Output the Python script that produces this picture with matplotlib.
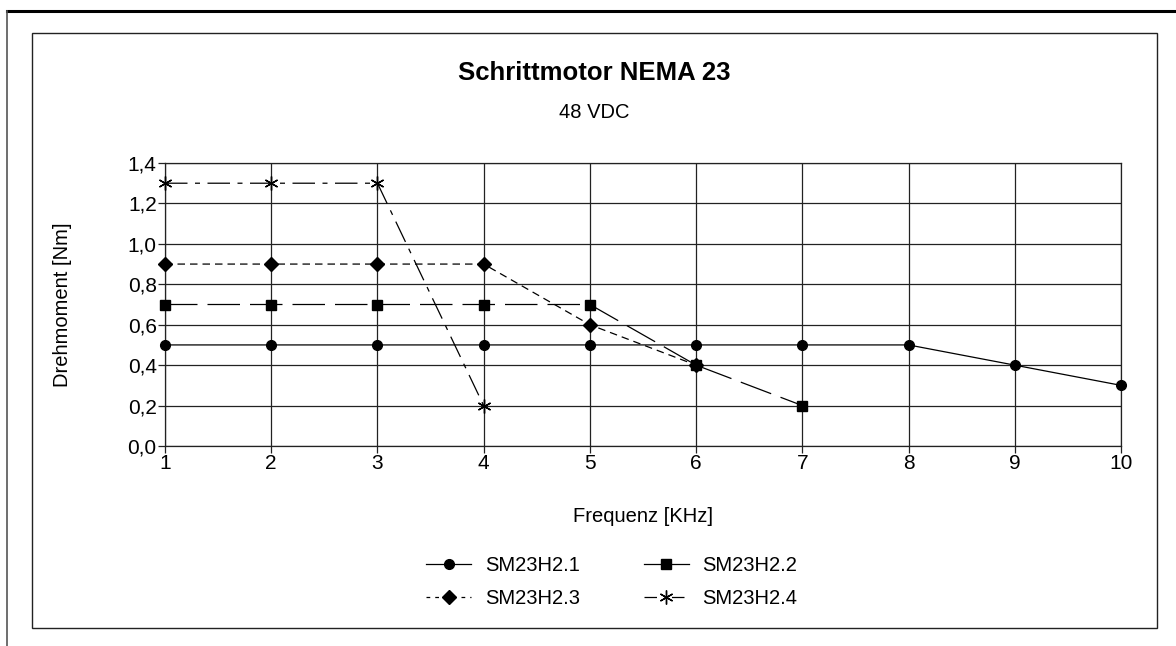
import matplotlib
matplotlib.use("Agg")
import matplotlib.pyplot as plt
from matplotlib.lines import Line2D
from matplotlib.patches import Rectangle
from matplotlib.ticker import FuncFormatter

plt.rcParams["font.family"] = ["Liberation Sans", "DejaVu Sans"]

# Daten
freq_21 = [1, 2, 3, 4, 5, 6, 7, 8, 9, 10]
torque_21 = [0.5, 0.5, 0.5, 0.5, 0.5, 0.5, 0.5, 0.5, 0.4, 0.3]
freq_22 = [1, 2, 3, 4, 5, 6, 7]
torque_22 = [0.7, 0.7, 0.7, 0.7, 0.7, 0.4, 0.2]
freq_23 = [1, 2, 3, 4, 5, 6]
torque_23 = [0.9, 0.9, 0.9, 0.9, 0.6, 0.4]
freq_24 = [1, 2, 3, 4]
torque_24 = [1.3, 1.3, 1.3, 0.2]
labels = ["SM23H2.1", "SM23H2.2", "SM23H2.3", "SM23H2.4"]
x_ticks = list(range(1, 11))
y_ticks = [0.0, 0.2, 0.4, 0.6, 0.8, 1.0, 1.2, 1.4]

W, H = 1176, 646
fig = plt.figure(figsize=(W / 100, H / 100), dpi=100)

# Rahmen: äußere Linien oben/links, innerer Kasten
fig.add_artist(Line2D([7 / W, 1], [1 - 11 / H, 1 - 11 / H], transform=fig.transFigure,
                      color="black", lw=2.2))
fig.add_artist(Line2D([7 / W, 7 / W], [0, 1 - 11 / H], transform=fig.transFigure,
                      color="#555555", lw=1.2))
fig.add_artist(Rectangle((32 / W, 1 - 628 / H), (1157 - 32) / W, (628 - 33) / H,
                         transform=fig.transFigure, fill=False, ec="#222222", lw=1.0))

ax = fig.add_axes([165 / W, 1 - 446 / H, (1121 - 165) / W, (446 - 163) / H])

style = dict(color="black", lw=0.9, clip_on=False, zorder=3)
ax.plot(freq_21, torque_21, marker="o", ms=7, ls="-", **style)
ax.plot(freq_22, torque_22, marker="s", ms=7, ls=(0, (26, 8)), **style)
ax.plot(freq_23, torque_23, marker="D", ms=7, ls=(0, (6, 4)), **style)
ax.plot(freq_24, torque_24, marker=(6, 2, 0), ms=10, mew=1.0, ls=(0, (18, 6, 4, 6)), **style)

ax.set_xlim(1, 10)
ax.set_ylim(0, 1.4)
ax.set_xticks(x_ticks)
ax.set_yticks(y_ticks)
ax.yaxis.set_major_formatter(FuncFormatter(lambda v, p: f"{v:.1f}".replace(".", ",")))
ax.grid(True, color="#222222", lw=0.9)
for s in ax.spines.values():
    s.set_color("#222222")
    s.set_linewidth(0.9)
ax.tick_params(axis="both", length=5, width=0.9, color="#222222", labelsize=15, pad=1)

ax.set_xlabel("Frequenz [KHz]", fontsize=14.5, labelpad=24)
ax.set_ylabel("Drehmoment [Nm]", fontsize=14.5, labelpad=40)

fig.text(594 / W, 1 - 73 / H, "Schrittmotor NEMA 23", ha="center", va="center",
         fontsize=18.5, fontweight="bold")
fig.text(594 / W, 1 - 112 / H, "48 VDC", ha="center", va="center", fontsize=14.5)

h1 = Line2D([], [], color="black", lw=0.9, marker="o", ms=7, ls="-")
h2 = Line2D([], [], color="black", lw=0.9, marker="s", ms=7, ls="-")
h3 = Line2D([], [], color="black", lw=0.9, marker="D", ms=7, ls=(0, (3, 4)))
h4 = Line2D([], [], color="black", lw=0.9, marker=(6, 2, 0), ms=10, ls=(0, (10, 6, 2, 4)))
# Reihenfolge so, dass Zeile 1 = .1/.2 und Zeile 2 = .3/.4
fig.legend([h1, h3, h2, h4], [labels[0], labels[2], labels[1], labels[3]], ncol=2,
           loc="center", bbox_to_anchor=(612 / W, 1 - 582 / H), frameon=False,
           fontsize=14.5, handlelength=2.2, columnspacing=3.2, handletextpad=0.7,
           labelspacing=0.7)

fig.savefig("out.png", dpi=100)
